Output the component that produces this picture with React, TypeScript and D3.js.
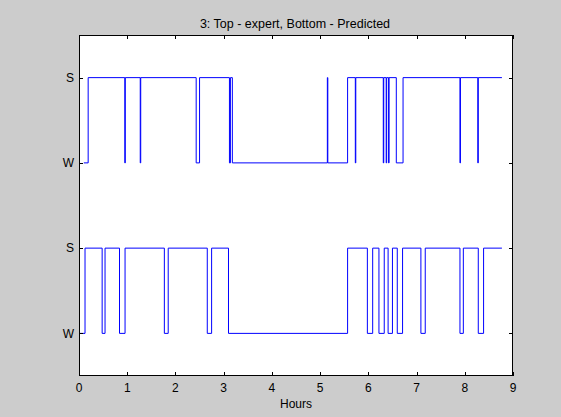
import React, { useRef, useEffect } from 'react';
import * as d3 from 'd3';

// Step change points: [hour, state] where 0 = W, 1 = S
const EXPERT: [number, number][] = [
  [0.10, 0], [0.19, 1], [0.95, 0], [0.96, 1], [1.27, 0], [1.28, 1],
  [2.43, 0], [2.50, 1], [3.12, 0], [3.14, 1], [3.18, 0], [5.15, 1],
  [5.16, 0], [5.57, 1], [5.73, 0], [5.74, 1], [6.31, 0], [6.32, 1],
  [6.37, 0], [6.38, 1], [6.42, 0], [6.43, 1], [6.58, 0], [6.72, 1],
  [7.90, 0], [7.91, 1], [8.27, 0], [8.28, 1], [8.77, 1],
];

const PREDICTED: [number, number][] = [
  [0.02, 0], [0.125, 1], [0.48, 0], [0.54, 1], [0.84, 0], [0.955, 1],
  [1.77, 0], [1.85, 1], [2.66, 0], [2.75, 1], [3.10, 0], [5.57, 1],
  [5.98, 0], [6.09, 1], [6.22, 0], [6.33, 1], [6.41, 0], [6.50, 1],
  [6.60, 0], [6.71, 1], [7.09, 0], [7.18, 1], [7.90, 0], [7.97, 1],
  [8.28, 0], [8.39, 1], [8.77, 1],
];

const X_TICKS = [0, 1, 2, 3, 4, 5, 6, 7, 8, 9];
const Y_TICKS = [0, 1, 2, 3];
const Y_LABELS = ['W', 'S', 'W', 'S'];

const TITLE = '3: Top - expert, Bottom - Predicted';
const X_LABEL = 'Hours';

export default function App() {
  const svgRef = useRef<SVGSVGElement>(null);

  useEffect(() => {
    document.body.style.margin = '0';
    const svg = d3.select(svgRef.current);
    svg.selectAll('*').remove();

    const width = 561;
    const height = 417;
    const margin = { top: 35, right: 48, bottom: 41, left: 79 };
    const w = width - margin.left - margin.right;
    const h = height - margin.top - margin.bottom;
    const font = 'Liberation Sans, Arial, Helvetica, sans-serif';

    svg.append('rect').attr('width', width).attr('height', height).attr('fill', '#cccccc');

    const g = svg.append('g').attr('transform', `translate(${margin.left},${margin.top})`);
    g.append('rect').attr('width', w).attr('height', h).attr('fill', '#ffffff');

    const x = d3.scaleLinear().domain([0, 9]).range([0, w]);
    const y = d3.scaleLinear().domain([-0.5, 3.5]).range([h, 0]);

    const line = d3.line<[number, number]>()
      .x(d => x(d[0]))
      .curve(d3.curveStepAfter);

    // Top: expert (offset 2), bottom: predicted
    g.append('path')
      .datum(EXPERT)
      .attr('fill', 'none')
      .attr('stroke', '#0000ff')
      .attr('stroke-width', 1)
      .attr('d', line.y(d => y(d[1] + 2)) as never);

    g.append('path')
      .datum(PREDICTED)
      .attr('fill', 'none')
      .attr('stroke', '#0000ff')
      .attr('stroke-width', 1)
      .attr('d', line.y(d => y(d[1])) as never);

    // Box
    g.append('rect')
      .attr('x', 0.5).attr('y', 0.5).attr('width', w - 1).attr('height', h - 1)
      .attr('fill', 'none').attr('stroke', '#000').attr('stroke-width', 1);

    // Ticks (inside, all four sides)
    const tl = 4;
    X_TICKS.forEach(t => {
      const px = Math.round(x(t)) + 0.5;
      g.append('line').attr('x1', px).attr('x2', px).attr('y1', h).attr('y2', h - tl).attr('stroke', '#000');
      g.append('line').attr('x1', px).attr('x2', px).attr('y1', 0).attr('y2', tl).attr('stroke', '#000');
      g.append('text')
        .attr('x', x(t)).attr('y', h + 16)
        .attr('text-anchor', 'middle').attr('font-size', '12px').attr('font-family', font)
        .attr('fill', '#000')
        .text(t);
    });
    Y_TICKS.forEach((t, i) => {
      const py = Math.round(y(t)) + 0.5;
      g.append('line').attr('x1', 0).attr('x2', tl).attr('y1', py).attr('y2', py).attr('stroke', '#000');
      g.append('line').attr('x1', w).attr('x2', w - tl).attr('y1', py).attr('y2', py).attr('stroke', '#000');
      g.append('text')
        .attr('x', -5).attr('y', y(t)).attr('dy', '0.35em')
        .attr('text-anchor', 'end').attr('font-size', '12px').attr('font-family', font)
        .attr('fill', '#000')
        .text(Y_LABELS[i]);
    });

    g.append('text')
      .attr('x', w / 2).attr('y', h + 32)
      .attr('text-anchor', 'middle').attr('font-size', '12px').attr('font-family', font)
      .attr('fill', '#000')
      .text(X_LABEL);

    g.append('text')
      .attr('x', w / 2 - 1).attr('y', -7)
      .attr('text-anchor', 'middle').attr('font-size', '12.5px').attr('font-family', font)
      .attr('fill', '#000')
      .text(TITLE);
  }, []);

  return <svg ref={svgRef} width={561} height={417} style={{ display: 'block' }} />;
}
